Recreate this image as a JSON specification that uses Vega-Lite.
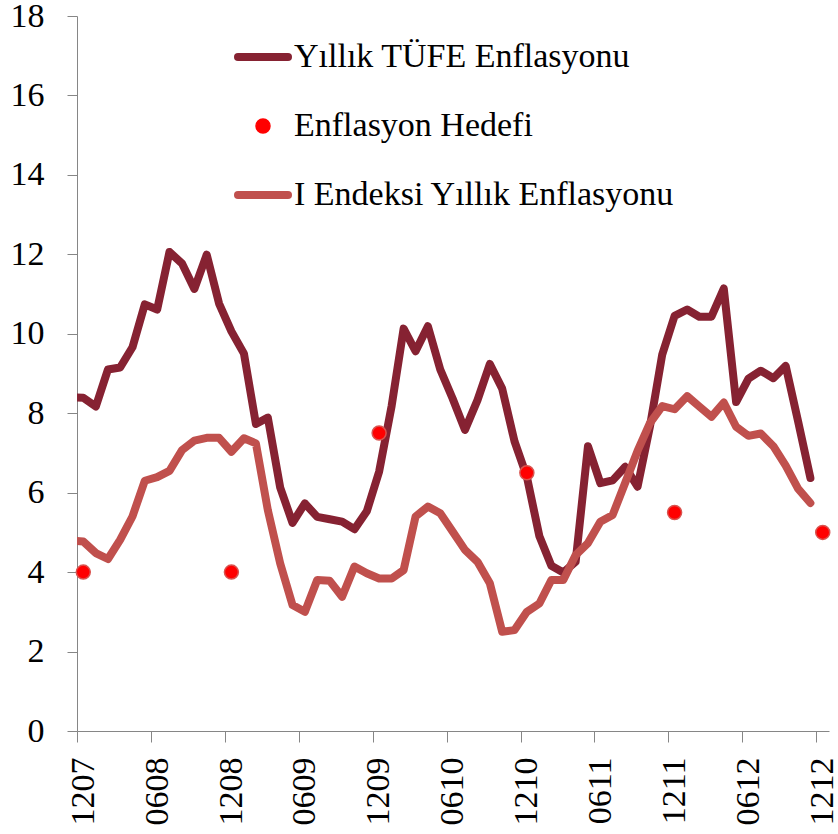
{
  "$schema": "https://vega.github.io/schema/vega-lite/v6.json",
  "width": 752,
  "height": 715,
  "autosize": {"type": "none"},
  "padding": {"left": 77, "top": 16, "right": 9, "bottom": 103},
  "background": "white",
  "config": {"view": {"stroke": null}, "font": "Liberation Serif"},
  "datasets": {
    "lines": [
      {"date": "2007-11-01", "series": "Yıllık TÜFE Enflasyonu", "value": 8.40},
      {"date": "2007-12-01", "series": "Yıllık TÜFE Enflasyonu", "value": 8.39},
      {"date": "2008-01-01", "series": "Yıllık TÜFE Enflasyonu", "value": 8.17},
      {"date": "2008-02-01", "series": "Yıllık TÜFE Enflasyonu", "value": 9.10},
      {"date": "2008-03-01", "series": "Yıllık TÜFE Enflasyonu", "value": 9.15},
      {"date": "2008-04-01", "series": "Yıllık TÜFE Enflasyonu", "value": 9.66},
      {"date": "2008-05-01", "series": "Yıllık TÜFE Enflasyonu", "value": 10.74},
      {"date": "2008-06-01", "series": "Yıllık TÜFE Enflasyonu", "value": 10.61},
      {"date": "2008-07-01", "series": "Yıllık TÜFE Enflasyonu", "value": 12.06},
      {"date": "2008-08-01", "series": "Yıllık TÜFE Enflasyonu", "value": 11.77},
      {"date": "2008-09-01", "series": "Yıllık TÜFE Enflasyonu", "value": 11.13},
      {"date": "2008-10-01", "series": "Yıllık TÜFE Enflasyonu", "value": 11.99},
      {"date": "2008-11-01", "series": "Yıllık TÜFE Enflasyonu", "value": 10.76},
      {"date": "2008-12-01", "series": "Yıllık TÜFE Enflasyonu", "value": 10.06},
      {"date": "2009-01-01", "series": "Yıllık TÜFE Enflasyonu", "value": 9.50},
      {"date": "2009-02-01", "series": "Yıllık TÜFE Enflasyonu", "value": 7.73},
      {"date": "2009-03-01", "series": "Yıllık TÜFE Enflasyonu", "value": 7.89},
      {"date": "2009-04-01", "series": "Yıllık TÜFE Enflasyonu", "value": 6.13},
      {"date": "2009-05-01", "series": "Yıllık TÜFE Enflasyonu", "value": 5.24},
      {"date": "2009-06-01", "series": "Yıllık TÜFE Enflasyonu", "value": 5.73},
      {"date": "2009-07-01", "series": "Yıllık TÜFE Enflasyonu", "value": 5.39},
      {"date": "2009-08-01", "series": "Yıllık TÜFE Enflasyonu", "value": 5.33},
      {"date": "2009-09-01", "series": "Yıllık TÜFE Enflasyonu", "value": 5.27},
      {"date": "2009-10-01", "series": "Yıllık TÜFE Enflasyonu", "value": 5.08},
      {"date": "2009-11-01", "series": "Yıllık TÜFE Enflasyonu", "value": 5.53},
      {"date": "2009-12-01", "series": "Yıllık TÜFE Enflasyonu", "value": 6.53},
      {"date": "2010-01-01", "series": "Yıllık TÜFE Enflasyonu", "value": 8.19},
      {"date": "2010-02-01", "series": "Yıllık TÜFE Enflasyonu", "value": 10.13},
      {"date": "2010-03-01", "series": "Yıllık TÜFE Enflasyonu", "value": 9.56},
      {"date": "2010-04-01", "series": "Yıllık TÜFE Enflasyonu", "value": 10.19},
      {"date": "2010-05-01", "series": "Yıllık TÜFE Enflasyonu", "value": 9.10},
      {"date": "2010-06-01", "series": "Yıllık TÜFE Enflasyonu", "value": 8.37},
      {"date": "2010-07-01", "series": "Yıllık TÜFE Enflasyonu", "value": 7.58},
      {"date": "2010-08-01", "series": "Yıllık TÜFE Enflasyonu", "value": 8.33},
      {"date": "2010-09-01", "series": "Yıllık TÜFE Enflasyonu", "value": 9.24},
      {"date": "2010-10-01", "series": "Yıllık TÜFE Enflasyonu", "value": 8.62},
      {"date": "2010-11-01", "series": "Yıllık TÜFE Enflasyonu", "value": 7.29},
      {"date": "2010-12-01", "series": "Yıllık TÜFE Enflasyonu", "value": 6.40},
      {"date": "2011-01-01", "series": "Yıllık TÜFE Enflasyonu", "value": 4.90},
      {"date": "2011-02-01", "series": "Yıllık TÜFE Enflasyonu", "value": 4.16},
      {"date": "2011-03-01", "series": "Yıllık TÜFE Enflasyonu", "value": 3.99},
      {"date": "2011-04-01", "series": "Yıllık TÜFE Enflasyonu", "value": 4.26},
      {"date": "2011-05-01", "series": "Yıllık TÜFE Enflasyonu", "value": 7.17},
      {"date": "2011-06-01", "series": "Yıllık TÜFE Enflasyonu", "value": 6.24},
      {"date": "2011-07-01", "series": "Yıllık TÜFE Enflasyonu", "value": 6.31},
      {"date": "2011-08-01", "series": "Yıllık TÜFE Enflasyonu", "value": 6.65},
      {"date": "2011-09-01", "series": "Yıllık TÜFE Enflasyonu", "value": 6.15},
      {"date": "2011-10-01", "series": "Yıllık TÜFE Enflasyonu", "value": 7.66},
      {"date": "2011-11-01", "series": "Yıllık TÜFE Enflasyonu", "value": 9.48},
      {"date": "2011-12-01", "series": "Yıllık TÜFE Enflasyonu", "value": 10.45},
      {"date": "2012-01-01", "series": "Yıllık TÜFE Enflasyonu", "value": 10.61},
      {"date": "2012-02-01", "series": "Yıllık TÜFE Enflasyonu", "value": 10.43},
      {"date": "2012-03-01", "series": "Yıllık TÜFE Enflasyonu", "value": 10.43},
      {"date": "2012-04-01", "series": "Yıllık TÜFE Enflasyonu", "value": 11.14},
      {"date": "2012-05-01", "series": "Yıllık TÜFE Enflasyonu", "value": 8.28},
      {"date": "2012-06-01", "series": "Yıllık TÜFE Enflasyonu", "value": 8.87},
      {"date": "2012-07-01", "series": "Yıllık TÜFE Enflasyonu", "value": 9.07},
      {"date": "2012-08-01", "series": "Yıllık TÜFE Enflasyonu", "value": 8.88},
      {"date": "2012-09-01", "series": "Yıllık TÜFE Enflasyonu", "value": 9.19},
      {"date": "2012-10-01", "series": "Yıllık TÜFE Enflasyonu", "value": 7.80},
      {"date": "2012-11-01", "series": "Yıllık TÜFE Enflasyonu", "value": 6.37},
      {"date": "2007-11-01", "series": "I Endeksi Yıllık Enflasyonu", "value": 4.80},
      {"date": "2007-12-01", "series": "I Endeksi Yıllık Enflasyonu", "value": 4.77},
      {"date": "2008-01-01", "series": "I Endeksi Yıllık Enflasyonu", "value": 4.48},
      {"date": "2008-02-01", "series": "I Endeksi Yıllık Enflasyonu", "value": 4.33},
      {"date": "2008-03-01", "series": "I Endeksi Yıllık Enflasyonu", "value": 4.81},
      {"date": "2008-04-01", "series": "I Endeksi Yıllık Enflasyonu", "value": 5.40},
      {"date": "2008-05-01", "series": "I Endeksi Yıllık Enflasyonu", "value": 6.30},
      {"date": "2008-06-01", "series": "I Endeksi Yıllık Enflasyonu", "value": 6.39},
      {"date": "2008-07-01", "series": "I Endeksi Yıllık Enflasyonu", "value": 6.55},
      {"date": "2008-08-01", "series": "I Endeksi Yıllık Enflasyonu", "value": 7.07},
      {"date": "2008-09-01", "series": "I Endeksi Yıllık Enflasyonu", "value": 7.31},
      {"date": "2008-10-01", "series": "I Endeksi Yıllık Enflasyonu", "value": 7.38},
      {"date": "2008-11-01", "series": "I Endeksi Yıllık Enflasyonu", "value": 7.38},
      {"date": "2008-12-01", "series": "I Endeksi Yıllık Enflasyonu", "value": 7.03},
      {"date": "2009-01-01", "series": "I Endeksi Yıllık Enflasyonu", "value": 7.37},
      {"date": "2009-02-01", "series": "I Endeksi Yıllık Enflasyonu", "value": 7.24},
      {"date": "2009-03-01", "series": "I Endeksi Yıllık Enflasyonu", "value": 5.56},
      {"date": "2009-04-01", "series": "I Endeksi Yıllık Enflasyonu", "value": 4.22},
      {"date": "2009-05-01", "series": "I Endeksi Yıllık Enflasyonu", "value": 3.17},
      {"date": "2009-06-01", "series": "I Endeksi Yıllık Enflasyonu", "value": 3.00},
      {"date": "2009-07-01", "series": "I Endeksi Yıllık Enflasyonu", "value": 3.80},
      {"date": "2009-08-01", "series": "I Endeksi Yıllık Enflasyonu", "value": 3.78},
      {"date": "2009-09-01", "series": "I Endeksi Yıllık Enflasyonu", "value": 3.38},
      {"date": "2009-10-01", "series": "I Endeksi Yıllık Enflasyonu", "value": 4.14},
      {"date": "2009-11-01", "series": "I Endeksi Yıllık Enflasyonu", "value": 3.97},
      {"date": "2009-12-01", "series": "I Endeksi Yıllık Enflasyonu", "value": 3.84},
      {"date": "2010-01-01", "series": "I Endeksi Yıllık Enflasyonu", "value": 3.84},
      {"date": "2010-02-01", "series": "I Endeksi Yıllık Enflasyonu", "value": 4.05},
      {"date": "2010-03-01", "series": "I Endeksi Yıllık Enflasyonu", "value": 5.40},
      {"date": "2010-04-01", "series": "I Endeksi Yıllık Enflasyonu", "value": 5.65},
      {"date": "2010-05-01", "series": "I Endeksi Yıllık Enflasyonu", "value": 5.48},
      {"date": "2010-06-01", "series": "I Endeksi Yıllık Enflasyonu", "value": 5.02},
      {"date": "2010-07-01", "series": "I Endeksi Yıllık Enflasyonu", "value": 4.56},
      {"date": "2010-08-01", "series": "I Endeksi Yıllık Enflasyonu", "value": 4.26},
      {"date": "2010-09-01", "series": "I Endeksi Yıllık Enflasyonu", "value": 3.72},
      {"date": "2010-10-01", "series": "I Endeksi Yıllık Enflasyonu", "value": 2.50},
      {"date": "2010-11-01", "series": "I Endeksi Yıllık Enflasyonu", "value": 2.54},
      {"date": "2010-12-01", "series": "I Endeksi Yıllık Enflasyonu", "value": 3.00},
      {"date": "2011-01-01", "series": "I Endeksi Yıllık Enflasyonu", "value": 3.21},
      {"date": "2011-02-01", "series": "I Endeksi Yıllık Enflasyonu", "value": 3.80},
      {"date": "2011-03-01", "series": "I Endeksi Yıllık Enflasyonu", "value": 3.80},
      {"date": "2011-04-01", "series": "I Endeksi Yıllık Enflasyonu", "value": 4.43},
      {"date": "2011-05-01", "series": "I Endeksi Yıllık Enflasyonu", "value": 4.73},
      {"date": "2011-06-01", "series": "I Endeksi Yıllık Enflasyonu", "value": 5.27},
      {"date": "2011-07-01", "series": "I Endeksi Yıllık Enflasyonu", "value": 5.44},
      {"date": "2011-08-01", "series": "I Endeksi Yıllık Enflasyonu", "value": 6.25},
      {"date": "2011-09-01", "series": "I Endeksi Yıllık Enflasyonu", "value": 7.05},
      {"date": "2011-10-01", "series": "I Endeksi Yıllık Enflasyonu", "value": 7.75},
      {"date": "2011-11-01", "series": "I Endeksi Yıllık Enflasyonu", "value": 8.18},
      {"date": "2011-12-01", "series": "I Endeksi Yıllık Enflasyonu", "value": 8.10},
      {"date": "2012-01-01", "series": "I Endeksi Yıllık Enflasyonu", "value": 8.43},
      {"date": "2012-02-01", "series": "I Endeksi Yıllık Enflasyonu", "value": 8.17},
      {"date": "2012-03-01", "series": "I Endeksi Yıllık Enflasyonu", "value": 7.91},
      {"date": "2012-04-01", "series": "I Endeksi Yıllık Enflasyonu", "value": 8.27},
      {"date": "2012-05-01", "series": "I Endeksi Yıllık Enflasyonu", "value": 7.66},
      {"date": "2012-06-01", "series": "I Endeksi Yıllık Enflasyonu", "value": 7.43},
      {"date": "2012-07-01", "series": "I Endeksi Yıllık Enflasyonu", "value": 7.49},
      {"date": "2012-08-01", "series": "I Endeksi Yıllık Enflasyonu", "value": 7.17},
      {"date": "2012-09-01", "series": "I Endeksi Yıllık Enflasyonu", "value": 6.68},
      {"date": "2012-10-01", "series": "I Endeksi Yıllık Enflasyonu", "value": 6.10},
      {"date": "2012-11-01", "series": "I Endeksi Yıllık Enflasyonu", "value": 5.74}
    ],
    "targets": [
      {"date": "2007-12-01", "series": "Enflasyon Hedefi", "value": 4.0},
      {"date": "2008-12-01", "series": "Enflasyon Hedefi", "value": 4.0},
      {"date": "2009-12-01", "series": "Enflasyon Hedefi", "value": 7.5},
      {"date": "2010-12-01", "series": "Enflasyon Hedefi", "value": 6.5},
      {"date": "2011-12-01", "series": "Enflasyon Hedefi", "value": 5.5},
      {"date": "2012-12-01", "series": "Enflasyon Hedefi", "value": 5.0}
    ]
  },
  "encoding": {
    "x": {
      "field": "date",
      "type": "temporal",
      "timeUnit": "utcyearmonth",
      "bandPosition": 0.5,
      "scale": {"domain": [
        {"year": 2007, "month": 12, "date": 1, "utc": true},
        {"year": 2013, "month": 1, "date": 1, "utc": true}
      ]},
      "axis": {
        "title": null,
        "values": [
          {"year": 2007, "month": 12, "date": 1, "utc": true},
          {"year": 2008, "month": 6, "date": 1, "utc": true},
          {"year": 2008, "month": 12, "date": 1, "utc": true},
          {"year": 2009, "month": 6, "date": 1, "utc": true},
          {"year": 2009, "month": 12, "date": 1, "utc": true},
          {"year": 2010, "month": 6, "date": 1, "utc": true},
          {"year": 2010, "month": 12, "date": 1, "utc": true},
          {"year": 2011, "month": 6, "date": 1, "utc": true},
          {"year": 2011, "month": 12, "date": 1, "utc": true},
          {"year": 2012, "month": 6, "date": 1, "utc": true},
          {"year": 2012, "month": 12, "date": 1, "utc": true}
        ],
        "labelExpr": "utcFormat(datum.value, '%m%y')",
        "labelAngle": 270,
        "labelAlign": "right",
        "labelBaseline": "middle",
        "labelOffset": 6,
        "labelPadding": 15,
        "labelFont": "Liberation Serif",
        "labelFontSize": 34,
        "labelColor": "black",
        "labelOverlap": false,
        "labelBound": false,
        "labelFlush": false,
        "tickSize": 11,
        "tickColor": "#868686",
        "domainColor": "#868686",
        "grid": false
      }
    },
    "y": {
      "field": "value",
      "type": "quantitative",
      "scale": {"domain": [0, 18], "nice": false, "zero": true},
      "axis": {
        "title": null,
        "values": [0, 2, 4, 6, 8, 10, 12, 14, 16, 18],
        "labelFont": "Liberation Serif",
        "labelFontSize": 34,
        "labelColor": "black",
        "labelPadding": 23,
        "labelFlush": false,
        "labelBound": false,
        "labelOverlap": false,
        "tickSize": 10,
        "tickColor": "#868686",
        "domainColor": "#868686",
        "grid": false
      }
    },
    "color": {
      "field": "series",
      "type": "nominal",
      "scale": {
        "domain": ["Yıllık TÜFE Enflasyonu", "Enflasyon Hedefi", "I Endeksi Yıllık Enflasyonu"],
        "range": ["#862232", "#FF0000", "#C0504D"]
      },
      "legend": {
        "title": null,
        "orient": "none",
        "legendX": 169,
        "legendY": 24,
        "symbolType": "stroke",
        "symbolSize": 2500,
        "symbolStrokeWidth": 8,
        "labelFont": "Liberation Serif",
        "labelFontSize": 34,
        "labelColor": "black",
        "labelOffset": 14,
        "labelLimit": 0,
        "rowPadding": 35,
        "encode": {
          "symbols": {
            "update": {
              "shape": {"signal": "datum.value === 'Enflasyon Hedefi' ? 'circle' : 'stroke'"},
              "size": {"signal": "datum.value === 'Enflasyon Hedefi' ? 196 : 2500"},
              "strokeWidth": {"signal": "datum.value === 'Enflasyon Hedefi' ? 1.5 : 8"},
              "fill": {"signal": "datum.value === 'Enflasyon Hedefi' ? '#FF0000' : 'transparent'"},
              "stroke": {"signal": "datum.value === 'Enflasyon Hedefi' ? '#D9534F' : (datum.value === 'Yıllık TÜFE Enflasyonu' ? '#862232' : '#C0504D')"},
              "strokeCap": {"value": "round"},
              "opacity": {"value": 1}
            }
          }
        }
      }
    }
  },
  "layer": [
    {
      "data": {"name": "lines"},
      "mark": {"type": "line", "strokeWidth": 8, "clip": true, "strokeJoin": "round", "strokeCap": "round"}
    },
    {
      "data": {"name": "targets"},
      "mark": {"type": "point", "filled": true, "size": 196, "opacity": 1, "stroke": "#D9534F", "strokeWidth": 1.5}
    }
  ]
}
